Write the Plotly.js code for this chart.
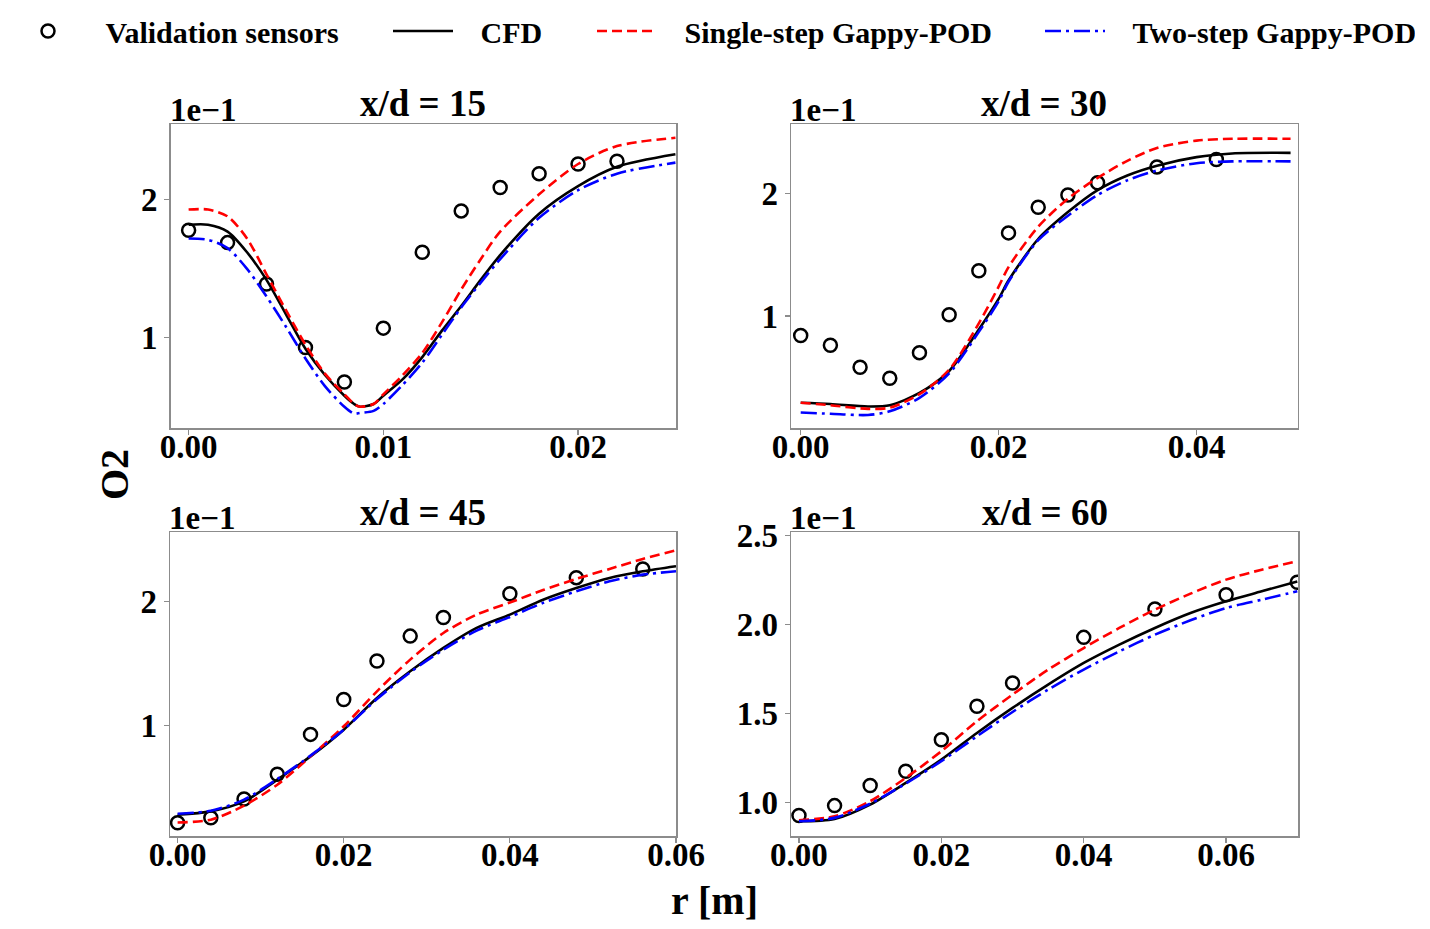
<!DOCTYPE html>
<html>
<head>
<meta charset="utf-8">
<script src="https://cdn.plot.ly/plotly-3.0.1.min.js"></script>
<style>html,body{margin:0;padding:0;background:#fff;}#chart{width:1430px;height:929px;}</style>
</head>
<body>
<div id="chart"></div>
<script>
// ---------- DATA (O2 values shown in units of 1e-1) ----------
// x/d = 15
const sensR15 = [0, 0.002, 0.004, 0.006, 0.008, 0.010, 0.012, 0.014, 0.016, 0.018, 0.020, 0.022];
const sensO15 = [1.78, 1.69, 1.39, 0.93, 0.68, 1.07, 1.62, 1.92, 2.09, 2.19, 2.26, 2.28];
const lineR15 = [0, 0.001, 0.002, 0.003, 0.004, 0.005, 0.006, 0.007, 0.008, 0.0085, 0.0088, 0.0095, 0.010, 0.011, 0.012, 0.013, 0.014, 0.015, 0.016, 0.018, 0.020, 0.022, 0.025];
const cfd15    = [1.82, 1.82, 1.77, 1.62, 1.42, 1.17, 0.92, 0.73, 0.58, 0.52, 0.50, 0.52, 0.58, 0.70, 0.86, 1.05, 1.23, 1.42, 1.60, 1.90, 2.10, 2.24, 2.33];
const single15 = [1.93, 1.93, 1.88, 1.72, 1.46, 1.20, 0.95, 0.74, 0.59, 0.52, 0.50, 0.52, 0.59, 0.73, 0.89, 1.11, 1.35, 1.57, 1.77, 2.04, 2.26, 2.39, 2.45];
const two15    = [1.72, 1.71, 1.65, 1.50, 1.30, 1.08, 0.85, 0.65, 0.50, 0.45, 0.455, 0.47, 0.52, 0.66, 0.82, 1.02, 1.22, 1.40, 1.57, 1.87, 2.07, 2.19, 2.27];

// x/d = 30
const sensR30 = [0, 0.003, 0.006, 0.009, 0.012, 0.015, 0.018, 0.021, 0.024, 0.027, 0.030, 0.036, 0.042];
const sensO30 = [0.84, 0.76, 0.58, 0.49, 0.70, 1.01, 1.37, 1.68, 1.89, 1.99, 2.09, 2.22, 2.28];
const lineR30 = [0, 0.003, 0.0068, 0.009, 0.012, 0.015, 0.018, 0.020, 0.021, 0.024, 0.027, 0.030, 0.033, 0.036, 0.040, 0.0436, 0.0495];
const cfd30    = [0.29, 0.28, 0.26, 0.27, 0.37, 0.55, 0.89, 1.14, 1.29, 1.63, 1.85, 2.03, 2.15, 2.23, 2.30, 2.33, 2.335];
const single30 = [0.29, 0.27, 0.24, 0.25, 0.36, 0.56, 0.94, 1.24, 1.40, 1.73, 1.96, 2.13, 2.27, 2.375, 2.435, 2.45, 2.45];
const two30    = [0.21, 0.20, 0.19, 0.22, 0.33, 0.53, 0.87, 1.12, 1.28, 1.62, 1.82, 1.99, 2.11, 2.19, 2.25, 2.265, 2.265];

// x/d = 45
const sensR45 = [0, 0.004, 0.008, 0.012, 0.016, 0.020, 0.024, 0.028, 0.032, 0.040, 0.048, 0.056];
const sensO45 = [0.22, 0.26, 0.41, 0.61, 0.93, 1.21, 1.52, 1.72, 1.87, 2.06, 2.19, 2.26];
const lineR45 = [0, 0.004, 0.008, 0.012, 0.016, 0.020, 0.024, 0.028, 0.032, 0.036, 0.040, 0.044, 0.048, 0.052, 0.056, 0.060];
const cfd45    = [0.284, 0.311, 0.391, 0.566, 0.753, 0.968, 1.223, 1.437, 1.625, 1.786, 1.893, 2.013, 2.107, 2.188, 2.241, 2.282];
const single45 = [0.222, 0.244, 0.357, 0.525, 0.753, 0.995, 1.276, 1.531, 1.745, 1.893, 1.99, 2.09, 2.18, 2.26, 2.34, 2.41];
const two45    = [0.292, 0.316, 0.405, 0.571, 0.759, 0.968, 1.214, 1.429, 1.611, 1.764, 1.874, 1.987, 2.080, 2.161, 2.214, 2.241];

// x/d = 60
const sensR60 = [0, 0.005, 0.010, 0.015, 0.020, 0.025, 0.030, 0.040, 0.050, 0.060, 0.070];
const sensO60 = [0.925, 0.981, 1.094, 1.174, 1.352, 1.540, 1.671, 1.928, 2.088, 2.168, 2.238];
const lineR60 = [0, 0.005, 0.010, 0.015, 0.020, 0.025, 0.030, 0.035, 0.040, 0.045, 0.050, 0.055, 0.060, 0.065, 0.070];
const cfd60    = [0.893, 0.906, 0.987, 1.109, 1.240, 1.390, 1.531, 1.662, 1.784, 1.887, 1.981, 2.065, 2.131, 2.187, 2.243];
const single60 = [0.899, 0.921, 1.006, 1.137, 1.287, 1.456, 1.606, 1.746, 1.868, 1.981, 2.084, 2.174, 2.253, 2.309, 2.356];
const two60    = [0.893, 0.912, 0.992, 1.105, 1.231, 1.371, 1.508, 1.634, 1.747, 1.849, 1.943, 2.024, 2.093, 2.140, 2.187];

const panelTitles = ["x/d = 15", "x/d = 30", "x/d = 45", "x/d = 60"];
const seriesNames = ["Validation sensors", "CFD", "Single-step Gappy-POD", "Two-step Gappy-POD"];
const xTicks = [[0, 0.01, 0.02], [0, 0.02, 0.04], [0, 0.02, 0.04, 0.06], [0, 0.02, 0.04, 0.06]];
const yTicks = [[1, 2], [1, 2], [1, 2], [1.0, 1.5, 2.0, 2.5]];
const offsetText = "1e\u22121";
const yLabel = "O2";
const xLabel = "r [m]";

// ---------- STYLE ----------
const FONT = "Liberation Serif, Times New Roman, serif";
const W = 1430, H = 929;
const panels = [
  {sR: sensR15, sO: sensO15, lR: lineR15, c: cfd15, s: single15, t: two15,
   px: [170.7, 676], py: [124, 428], xr: [-0.00092, 0.02503], yr: [0.346, 2.550], yfmt: "d"},
  {sR: sensR30, sO: sensO30, lR: lineR30, c: cfd30, s: single30, t: two30,
   px: [791, 1297.5], py: [124, 428], xr: [-0.00098, 0.0502], yr: [0.0835, 2.571], yfmt: "d"},
  {sR: sensR45, sO: sensO45, lR: lineR45, c: cfd45, s: single45, t: two45,
   px: [170, 676], py: [532, 836], xr: [-0.000915, 0.06], yr: [0.113, 2.557], yfmt: "d"},
  {sR: sensR60, sO: sensO60, lR: lineR60, c: cfd60, s: single60, t: two60,
   px: [791, 1298], py: [532, 836], xr: [-0.00112, 0.0701], yr: [0.810, 2.521], yfmt: ".1f"}
];

const traces = [];
const layout = {
  width: W, height: H,
  margin: {l: 0, r: 0, t: 0, b: 0},
  paper_bgcolor: "#fff", plot_bgcolor: "#fff",
  font: {family: FONT, color: "#000", size: 30, weight: "bold"},
  showlegend: true,
  legend: {
    orientation: "h", x: 13 / W, xanchor: "left", y: 1 - 31 / H, yanchor: "middle",
    bgcolor: "rgba(0,0,0,0)", itemwidth: 60,
    font: {family: FONT, size: 30, color: "#000", weight: "bold"},
    traceorder: "normal"
  },
  annotations: [], shapes: []
};

const pad = "\u00a0\u00a0\u00a0";
panels.forEach((p, i) => {
  const n = i + 1;
  const xa = "x" + (n === 1 ? "" : n), ya = "y" + (n === 1 ? "" : n);
  const showL = i === 0;
  traces.push({
    x: p.sR, y: p.sO, xaxis: xa, yaxis: ya, type: "scatter", mode: "markers",
    name: pad + seriesNames[0], legendgroup: "s", showlegend: showL, legendwidth: 300,
    marker: {symbol: "circle-open", size: 13, color: "#000", line: {width: 2.5, color: "#000"}}
  });
  traces.push({
    x: p.lR, y: p.c, xaxis: xa, yaxis: ya, type: "scatter", mode: "lines",
    name: pad + seriesNames[1], legendgroup: "c", showlegend: showL, legendwidth: 129,
    line: {color: "#000", width: 2.6, shape: "spline", smoothing: 0.8}
  });
  traces.push({
    x: p.lR, y: p.s, xaxis: xa, yaxis: ya, type: "scatter", mode: "lines",
    name: pad + seriesNames[2], legendgroup: "r", showlegend: showL, legendwidth: 373,
    line: {color: "#ff0000", width: 2.6, dash: "10px,5px", shape: "spline", smoothing: 0.8}
  });
  traces.push({
    x: p.lR, y: p.t, xaxis: xa, yaxis: ya, type: "scatter", mode: "lines",
    name: pad + seriesNames[3], legendgroup: "b", showlegend: showL, legendwidth: 300,
    line: {color: "#0000ff", width: 2.6, dash: "16px,5px,3px,5px", shape: "spline", smoothing: 0.8}
  });

  const axCommon = {
    showgrid: false, zeroline: false, showline: true, mirror: true,
    linecolor: "#8c8c8c", linewidth: 1.5, ticks: "outside", ticklen: 5, tickwidth: 1.2,
    tickcolor: "#8c8c8c", tickfont: {family: FONT, size: 33, color: "#000", weight: "bold"}
  };
  layout["xaxis" + (n === 1 ? "" : n)] = Object.assign({}, axCommon, {
    domain: [p.px[0] / W, p.px[1] / W], range: p.xr, anchor: ya,
    tickvals: xTicks[i], tickformat: ".2f", ticklabelstandoff: -16
  });
  layout["yaxis" + (n === 1 ? "" : n)] = Object.assign({}, axCommon, {
    domain: [1 - p.py[1] / H, 1 - p.py[0] / H], range: p.yr, anchor: xa,
    tickvals: yTicks[i], tickformat: p.yfmt
  });
  layout.annotations.push({
    text: panelTitles[i], xref: xa + " domain", yref: ya + " domain", x: 0.5, y: 1,
    xanchor: "center", yanchor: "middle", yshift: 20, showarrow: false,
    font: {family: FONT, size: 37, color: "#000", weight: "bold"}
  });
  layout.annotations.push({
    text: offsetText, xref: xa + " domain", yref: ya + " domain", x: 0, y: 1,
    xanchor: "left", yanchor: "middle", yshift: 14, xshift: -3, showarrow: false,
    font: {family: FONT, size: 33, color: "#000", weight: "bold"}
  });
});

layout.annotations.push({
  text: yLabel, xref: "paper", yref: "paper", x: 115 / W, y: 1 - 475 / H,
  textangle: -90, showarrow: false, xanchor: "center", yanchor: "middle",
  font: {family: FONT, size: 40, color: "#000", weight: "bold"}
});
layout.annotations.push({
  text: xLabel, xref: "paper", yref: "paper", x: 714 / W, y: 1 - 900 / H,
  showarrow: false, xanchor: "center", yanchor: "middle",
  font: {family: FONT, size: 40, color: "#000", weight: "bold"}
});

Plotly.newPlot("chart", traces, layout, {displayModeBar: false, staticPlot: true});
</script>
</body>
</html>
